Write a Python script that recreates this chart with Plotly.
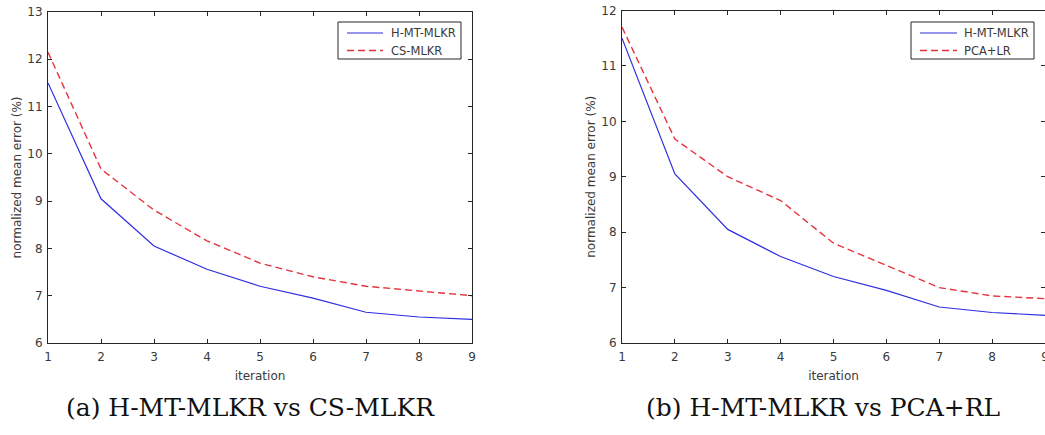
import plotly.graph_objects as go

# iteration index shared by both panels
iterations = [1, 2, 3, 4, 5, 6, 7, 8, 9]

# normalized mean error (%) per iteration
h_mt_mlkr = [11.5, 9.05, 8.05, 7.56, 7.2, 6.95, 6.65, 6.55, 6.5]
cs_mlkr = [12.15, 9.68, 8.81, 8.16, 7.69, 7.4, 7.2, 7.1, 7.0]
pca_lr = [11.7, 9.68, 9.0, 8.57, 7.8, 7.4, 7.0, 6.85, 6.8]

left_yticks = [6, 7, 8, 9, 10, 11, 12, 13]
right_yticks = [6, 7, 8, 9, 10, 11, 12]

left_names = ["H-MT-MLKR", "CS-MLKR"]
right_names = ["H-MT-MLKR", "PCA+LR"]
captions = ["(a) H-MT-MLKR vs CS-MLKR", "(b) H-MT-MLKR vs PCA+RL"]

W, H = 1045, 435
BLUE = "#2e2ee0"
RED = "#e5333d"
AXC = "#262626"
TXT = "#3a3a3a"
SANS = "DejaVu Sans, Arial, sans-serif"
SERIF = "DejaVu Serif, Liberation Serif, serif"
DASH = "7px,4px"


def px_x(p):
    return p / W


def px_y(p):
    return 1 - p / H


fig = go.Figure()

fig.add_trace(go.Scatter(x=iterations, y=h_mt_mlkr, mode="lines", name=left_names[0],
                         line=dict(color=BLUE, width=1.2), xaxis="x", yaxis="y"))
fig.add_trace(go.Scatter(x=iterations, y=cs_mlkr, mode="lines", name=left_names[1],
                         line=dict(color=RED, width=1.4, dash=DASH), xaxis="x", yaxis="y"))
fig.add_trace(go.Scatter(x=iterations, y=h_mt_mlkr, mode="lines", name=right_names[0],
                         line=dict(color=BLUE, width=1.2), xaxis="x2", yaxis="y2"))
fig.add_trace(go.Scatter(x=iterations, y=pca_lr, mode="lines", name=right_names[1],
                         line=dict(color=RED, width=1.4, dash=DASH), xaxis="x2", yaxis="y2"))

axis_common = dict(
    showline=True, linecolor=AXC, linewidth=1, mirror="ticks",
    ticks="inside", ticklen=4, tickcolor=AXC, tickwidth=1,
    showgrid=False, zeroline=False, ticklabeloverflow="allow", automargin=False,
    tickfont=dict(family=SANS, size=12, color=TXT),
)
title_font = dict(family=SANS, size=12, color=TXT)

xaxis_common = dict(axis_common, range=[1, 9], tickvals=iterations, ticklabelstandoff=3,
                    title=dict(text="iteration", font=title_font, standoff=8))
yaxis_common = dict(axis_common, ticklabelstandoff=2,
                    title=dict(text="normalized mean error (%)", font=title_font, standoff=3))

fig.update_layout(
    template="none",
    width=W, height=H, autosize=False,
    margin=dict(l=0, r=0, t=0, b=0, pad=0),
    paper_bgcolor="white", plot_bgcolor="white",
    showlegend=False,
    xaxis=dict(xaxis_common, domain=[px_x(48), px_x(472)], anchor="y"),
    yaxis=dict(yaxis_common, domain=[px_y(343), px_y(12)], anchor="x", range=[6, 13],
               tickvals=left_yticks),
    xaxis2=dict(xaxis_common, domain=[px_x(622), 1.0], anchor="y2"),
    yaxis2=dict(yaxis_common, domain=[px_y(343), px_y(10.5)], anchor="x2", range=[6, 12],
                tickvals=right_yticks),
)


def add_legend(box, sample_x, text_x, names):
    """Boxed legend in pixel coordinates: solid blue row, dashed red row."""
    x0, y0, x1, y1 = box
    fig.add_shape(type="rect", xref="paper", yref="paper",
                  x0=px_x(x0), x1=px_x(x1), y0=px_y(y1), y1=px_y(y0),
                  line=dict(color=AXC, width=1), fillcolor="white", layer="above")
    rows = [(33, BLUE, None, 1.2), (50.5, RED, DASH, 1.4)]
    for (ry, col, dash, w), name in zip(rows, names):
        fig.add_shape(type="line", xref="paper", yref="paper",
                      x0=px_x(sample_x[0]), x1=px_x(sample_x[1]), y0=px_y(ry), y1=px_y(ry),
                      line=dict(color=col, width=w, dash=dash), layer="above")
        fig.add_annotation(text=name, x=px_x(text_x), y=px_y(ry), xref="paper", yref="paper",
                           xanchor="left", yanchor="middle", showarrow=False,
                           font=dict(family=SANS, size=11.5, color=TXT))


add_legend((338, 22, 461, 59), (347, 383), 389, left_names)
add_legend((911, 22, 1034, 59), (920, 957), 962, right_names)

# subfigure captions
for cx, text in zip([250, 823], captions):
    fig.add_annotation(text=text, x=px_x(cx), y=px_y(407), xref="paper", yref="paper",
                       xanchor="center", yanchor="middle", showarrow=False,
                       font=dict(family=SERIF, size=25, color="#111"))

fig.write_html("out.html")
